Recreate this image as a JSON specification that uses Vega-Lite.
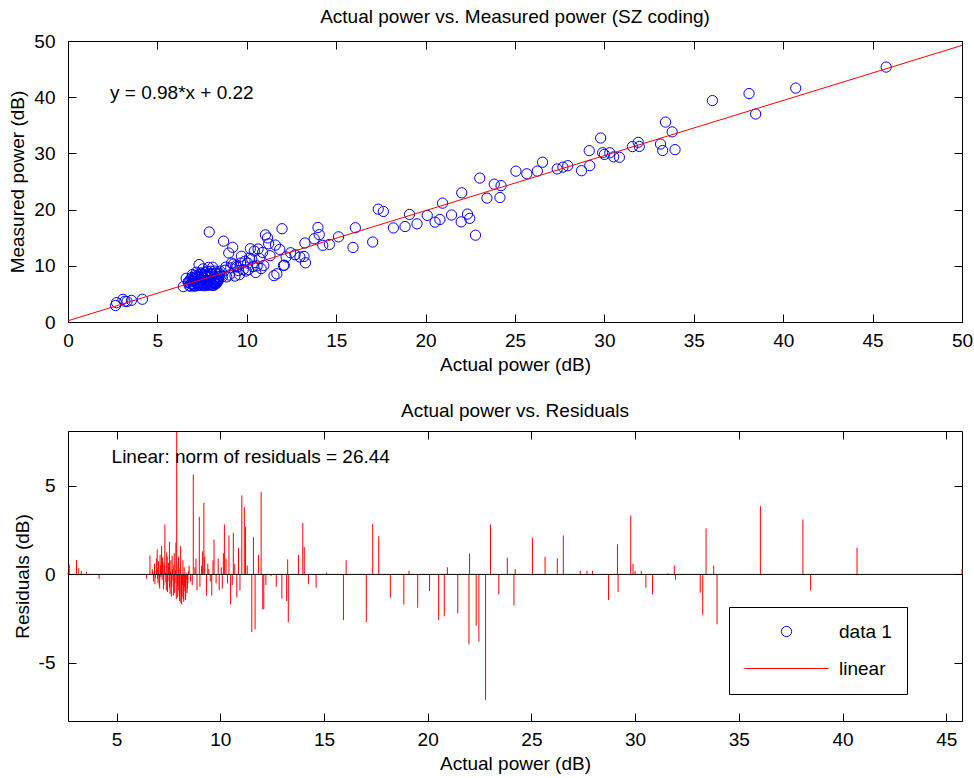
{
  "$schema": "https://vega.github.io/schema/vega-lite/v6.json",
  "background": "white",
  "padding": {"left": 8, "top": 8, "right": 5, "bottom": 5},
  "spacing": 27,
  "config": {
    "font": "Liberation Sans",
    "view": {"stroke": null},
    "axis": {
      "labelFont": "Liberation Sans", "labelFontSize": 19, "labelColor": "black",
      "titleFont": "Liberation Sans", "titleFontSize": 19, "titleFontWeight": "normal", "titleColor": "black",
      "domainColor": "black", "domainWidth": 1, "tickColor": "black", "tickWidth": 1,
      "grid": false, "tickSize": -8, "labelPadding": 21, "labelFlush": false, "labelOverlap": false, "titlePadding": 6
    },
    "axisX": {"labelPadding": 17, "titlePadding": 5},
    "title": {"font": "Liberation Sans", "fontSize": 19, "fontWeight": "normal", "color": "black"},
    "legend": {
      "orient": "none", "legendX": 661, "legendY": 566,
      "strokeColor": "black", "fillColor": "white", "padding": 15,
      "labelFont": "Liberation Sans", "labelFontSize": 19, "labelColor": "black",
      "labelOffset": 10, "rowPadding": 17, "clipHeight": 19, "symbolStrokeWidth": 1
    }
  },
  "datasets": {
    "fit": [{"x": 0, "y": 0.22}, {"x": 50, "y": 49.22}],
    "pts": [
      {"x": 2.66, "y": 2.93, "r": 0.10}, {"x": 2.72, "y": 3.44, "r": 0.55}, {"x": 3.07, "y": 4.03, "r": 0.80},
      {"x": 3.18, "y": 3.69, "r": 0.35}, {"x": 3.30, "y": 3.65, "r": 0.20}, {"x": 3.55, "y": 3.85, "r": 0.15},
      {"x": 4.16, "y": 4.05, "r": -0.25}, {"x": 6.45, "y": 6.29, "r": -0.25}, {"x": 6.61, "y": 7.77, "r": 1.07},
      {"x": 6.72, "y": 7.11, "r": 0.30}, {"x": 6.78, "y": 6.46, "r": -0.40}, {"x": 6.83, "y": 7.51, "r": 0.60},
      {"x": 6.88, "y": 6.76, "r": -0.20}, {"x": 6.92, "y": 7.90, "r": 0.90}, {"x": 6.96, "y": 8.45, "r": 1.41},
      {"x": 7.00, "y": 6.58, "r": -0.50}, {"x": 7.04, "y": 7.32, "r": 0.20}, {"x": 7.08, "y": 6.36, "r": -0.80},
      {"x": 7.12, "y": 7.70, "r": 0.50}, {"x": 7.17, "y": 8.85, "r": 1.60}, {"x": 7.20, "y": 6.98, "r": -0.30},
      {"x": 7.24, "y": 8.02, "r": 0.70}, {"x": 7.28, "y": 6.75, "r": -0.60}, {"x": 7.33, "y": 10.22, "r": 2.82},
      {"x": 7.36, "y": 7.53, "r": 0.10}, {"x": 7.40, "y": 6.57, "r": -0.90}, {"x": 7.44, "y": 8.51, "r": 1.00},
      {"x": 7.48, "y": 7.15, "r": -0.40}, {"x": 7.52, "y": 7.99, "r": 0.40}, {"x": 7.55, "y": 9.45, "r": 1.83},
      {"x": 7.58, "y": 6.55, "r": -1.10}, {"x": 7.62, "y": 8.49, "r": 0.80}, {"x": 7.66, "y": 7.03, "r": -0.70},
      {"x": 7.70, "y": 8.07, "r": 0.30}, {"x": 7.74, "y": 6.61, "r": -1.20}, {"x": 7.78, "y": 9.04, "r": 1.20},
      {"x": 7.82, "y": 7.38, "r": -0.50}, {"x": 7.86, "y": 9.72, "r": 1.80}, {"x": 7.90, "y": 16.01, "r": 8.05},
      {"x": 7.93, "y": 6.69, "r": -1.30}, {"x": 7.97, "y": 8.63, "r": 0.60}, {"x": 8.00, "y": 7.16, "r": -0.90},
      {"x": 8.04, "y": 6.60, "r": -1.50}, {"x": 8.09, "y": 9.75, "r": 1.60}, {"x": 8.12, "y": 7.08, "r": -1.10},
      {"x": 8.14, "y": 6.50, "r": -1.70}, {"x": 8.18, "y": 7.64, "r": -0.60}, {"x": 8.22, "y": 6.88, "r": -1.40},
      {"x": 8.26, "y": 8.71, "r": 0.40}, {"x": 8.30, "y": 7.40, "r": -0.95}, {"x": 8.34, "y": 7.19, "r": -1.20},
      {"x": 8.38, "y": 8.13, "r": -0.30}, {"x": 8.42, "y": 7.67, "r": -0.80}, {"x": 8.46, "y": 8.71, "r": 0.20},
      {"x": 6.75, "y": 6.99, "r": 0.15}, {"x": 6.85, "y": 6.38, "r": -0.55}, {"x": 6.94, "y": 7.37, "r": 0.35},
      {"x": 6.98, "y": 6.81, "r": -0.25}, {"x": 7.02, "y": 7.85, "r": 0.75}, {"x": 7.06, "y": 6.49, "r": -0.65},
      {"x": 7.10, "y": 8.28, "r": 1.10}, {"x": 7.14, "y": 7.07, "r": -0.15}, {"x": 7.22, "y": 8.25, "r": 0.95},
      {"x": 7.26, "y": 6.48, "r": -0.85}, {"x": 7.30, "y": 7.92, "r": 0.55}, {"x": 7.38, "y": 7.00, "r": -0.45},
      {"x": 7.42, "y": 8.74, "r": 1.25}, {"x": 7.46, "y": 6.53, "r": -1.00}, {"x": 7.50, "y": 8.22, "r": 0.65},
      {"x": 7.56, "y": 6.88, "r": -0.75}, {"x": 7.60, "y": 7.82, "r": 0.15}, {"x": 7.64, "y": 6.46, "r": -1.25},
      {"x": 7.68, "y": 8.80, "r": 1.05}, {"x": 7.72, "y": 7.44, "r": -0.35}, {"x": 7.76, "y": 8.37, "r": 0.55},
      {"x": 7.80, "y": 6.81, "r": -1.05}, {"x": 7.84, "y": 8.15, "r": 0.25}, {"x": 7.88, "y": 6.54, "r": -1.40},
      {"x": 7.95, "y": 7.36, "r": -0.65}, {"x": 7.99, "y": 9.05, "r": 1.00}, {"x": 8.02, "y": 6.88, "r": -1.20},
      {"x": 8.06, "y": 8.47, "r": 0.35}, {"x": 8.10, "y": 6.56, "r": -1.60}, {"x": 8.16, "y": 6.97, "r": -1.25},
      {"x": 8.20, "y": 9.06, "r": 0.80}, {"x": 8.24, "y": 6.75, "r": -1.55}, {"x": 8.28, "y": 7.63, "r": -0.70},
      {"x": 8.32, "y": 6.92, "r": -1.45}, {"x": 8.36, "y": 8.51, "r": 0.10}, {"x": 8.40, "y": 7.40, "r": -1.05},
      {"x": 8.44, "y": 7.99, "r": -0.50}, {"x": 8.50, "y": 9.05, "r": 0.50}, {"x": 8.65, "y": 8.10, "r": -0.60},
      {"x": 8.78, "y": 9.22, "r": 0.40}, {"x": 9.02, "y": 8.36, "r": -0.70}, {"x": 9.15, "y": 10.49, "r": 1.30},
      {"x": 9.40, "y": 10.03, "r": 0.60}, {"x": 9.52, "y": 9.15, "r": -0.40}, {"x": 9.65, "y": 10.48, "r": 0.80},
      {"x": 10.10, "y": 9.32, "r": -0.80}, {"x": 10.15, "y": 11.37, "r": 1.20}, {"x": 10.58, "y": 9.99, "r": -0.60},
      {"x": 10.95, "y": 10.05, "r": -0.90},
      {"x": 8.57, "y": 8.22, "r": -0.40}, {"x": 8.70, "y": 14.39, "r": 5.64}, {"x": 8.83, "y": 9.77, "r": 0.90},
      {"x": 8.88, "y": 8.02, "r": -0.90}, {"x": 8.99, "y": 12.28, "r": 3.25}, {"x": 9.10, "y": 9.64, "r": 0.50},
      {"x": 9.21, "y": 13.29, "r": 4.04}, {"x": 9.25, "y": 10.29, "r": 1.00}, {"x": 9.34, "y": 8.17, "r": -1.20},
      {"x": 9.45, "y": 9.78, "r": 0.30}, {"x": 9.59, "y": 8.42, "r": -1.20}, {"x": 9.70, "y": 11.70, "r": 1.97},
      {"x": 9.80, "y": 9.32, "r": -0.50}, {"x": 9.90, "y": 10.82, "r": 0.90}, {"x": 9.95, "y": 9.07, "r": -0.90},
      {"x": 10.05, "y": 10.47, "r": 0.40}, {"x": 10.20, "y": 13.04, "r": 2.82}, {"x": 10.28, "y": 11.19, "r": 0.90},
      {"x": 10.35, "y": 9.86, "r": -0.50}, {"x": 10.42, "y": 12.63, "r": 2.20}, {"x": 10.50, "y": 8.81, "r": -1.70},
      {"x": 10.63, "y": 12.99, "r": 2.35}, {"x": 10.70, "y": 11.31, "r": 0.60}, {"x": 10.80, "y": 9.50, "r": -1.30},
      {"x": 10.88, "y": 12.38, "r": 1.50}, {"x": 11.04, "y": 15.50, "r": 4.46}, {"x": 11.16, "y": 14.96, "r": 3.80},
      {"x": 11.22, "y": 13.92, "r": 2.70}, {"x": 11.30, "y": 11.79, "r": 0.50}, {"x": 11.52, "y": 8.25, "r": -3.26},
      {"x": 11.60, "y": 13.69, "r": 2.10}, {"x": 11.68, "y": 8.57, "r": -3.10}, {"x": 11.84, "y": 12.92, "r": 1.10},
      {"x": 11.97, "y": 16.60, "r": 4.65}, {"x": 12.05, "y": 10.06, "r": -1.97}, {"x": 12.10, "y": 10.11, "r": -1.97},
      {"x": 12.20, "y": 11.58, "r": -0.60}, {"x": 12.45, "y": 12.32, "r": -0.10}, {"x": 12.70, "y": 11.97, "r": -0.70},
      {"x": 12.97, "y": 11.57, "r": -1.36}, {"x": 13.20, "y": 11.66, "r": -1.50}, {"x": 13.25, "y": 14.06, "r": 0.85},
      {"x": 13.28, "y": 10.53, "r": -2.70}, {"x": 13.77, "y": 14.81, "r": 1.10}, {"x": 13.98, "y": 16.82, "r": 2.90},
      {"x": 14.05, "y": 15.54, "r": 1.55}, {"x": 14.25, "y": 13.64, "r": -0.55}, {"x": 14.62, "y": 13.80, "r": -0.75},
      {"x": 15.13, "y": 15.15, "r": 0.10}, {"x": 15.94, "y": 13.26, "r": -2.58}, {"x": 16.07, "y": 16.77, "r": 0.80},
      {"x": 17.04, "y": 14.23, "r": -2.69}, {"x": 17.35, "y": 20.08, "r": 2.86}, {"x": 17.64, "y": 19.67, "r": 2.16},
      {"x": 18.20, "y": 16.74, "r": -1.32}, {"x": 18.85, "y": 16.99, "r": -1.70}, {"x": 19.10, "y": 19.14, "r": 0.20},
      {"x": 19.52, "y": 17.47, "r": -1.88}, {"x": 20.09, "y": 18.97, "r": -0.94}, {"x": 20.53, "y": 17.76, "r": -2.58},
      {"x": 20.80, "y": 18.24, "r": -2.36}, {"x": 20.95, "y": 21.15, "r": 0.40}, {"x": 21.45, "y": 19.04, "r": -2.20},
      {"x": 21.99, "y": 17.82, "r": -3.95}, {"x": 22.02, "y": 22.98, "r": 1.18}, {"x": 22.34, "y": 19.21, "r": -2.90},
      {"x": 22.47, "y": 18.44, "r": -3.80}, {"x": 22.79, "y": 15.45, "r": -7.10}, {"x": 23.03, "y": 25.61, "r": 2.82},
      {"x": 23.43, "y": 22.05, "r": -1.13}, {"x": 23.84, "y": 24.52, "r": 0.94}, {"x": 24.16, "y": 22.15, "r": -1.75},
      {"x": 24.22, "y": 24.26, "r": 0.30}, {"x": 25.05, "y": 26.84, "r": 2.07}, {"x": 25.66, "y": 26.37, "r": 1.00},
      {"x": 26.25, "y": 26.85, "r": 0.90}, {"x": 26.54, "y": 28.43, "r": 2.20}, {"x": 27.36, "y": 27.23, "r": 0.20},
      {"x": 27.68, "y": 27.55, "r": 0.20}, {"x": 27.95, "y": 27.81, "r": 0.20}, {"x": 28.72, "y": 26.92, "r": -1.45},
      {"x": 29.15, "y": 30.49, "r": 1.70}, {"x": 29.18, "y": 27.82, "r": -1.00}, {"x": 29.79, "y": 32.74, "r": 3.33},
      {"x": 29.90, "y": 30.12, "r": 0.60}, {"x": 30.00, "y": 29.82, "r": 0.20}, {"x": 30.30, "y": 30.11, "r": 0.20},
      {"x": 30.52, "y": 29.38, "r": -0.75}, {"x": 30.84, "y": 29.31, "r": -1.13}, {"x": 31.57, "y": 31.21, "r": 0.05},
      {"x": 31.89, "y": 31.97, "r": 0.50}, {"x": 31.95, "y": 31.23, "r": -0.30}, {"x": 33.14, "y": 31.66, "r": -1.04},
      {"x": 33.26, "y": 30.51, "r": -2.30}, {"x": 33.42, "y": 35.57, "r": 2.60}, {"x": 33.79, "y": 33.83, "r": 0.50},
      {"x": 33.95, "y": 30.67, "r": -2.82}, {"x": 36.04, "y": 39.40, "r": 3.86}, {"x": 38.09, "y": 40.65, "r": 3.10},
      {"x": 38.46, "y": 37.01, "r": -0.90}, {"x": 40.70, "y": 41.61, "r": 1.50}, {"x": 45.76, "y": 45.36, "r": 0.30}
    ]
  },
  "vconcat": [
    {
      "width": 894, "height": 281,
      "title": {"text": "Actual power vs. Measured power (SZ coding)", "offset": 5},
      "layer": [
        {
          "data": {"name": "pts"},
          "mark": {"type": "point", "filled": false, "strokeWidth": 1, "opacity": 1},
          "encoding": {
            "x": {"field": "x", "type": "quantitative", "scale": {"domain": [0, 50], "nice": false, "zero": false},
                  "axis": {"orient": "bottom", "title": "Actual power (dB)", "values": [0, 5, 10, 15, 20, 25, 30, 35, 40, 45, 50]}},
            "y": {"field": "y", "type": "quantitative", "scale": {"domain": [0, 50], "nice": false, "zero": false},
                  "axis": {"orient": "left", "title": "Measured power (dB)", "values": [0, 10, 20, 30, 40, 50]}},
            "color": {"datum": "data 1", "type": "nominal", "scale": {"domain": ["data 1", "linear"], "range": ["#0000ff", "#ff0000"]}},
            "shape": {"datum": "data 1", "type": "nominal", "scale": {"domain": ["data 1", "linear"], "range": ["circle", "stroke"]}},
            "size": {"datum": "data 1", "type": "nominal", "scale": {"type": "point", "domain": ["data 1", "linear"], "range": [105, 7056], "padding": 0}}
          }
        },
        {
          "data": {"name": "fit"},
          "mark": {"type": "line", "strokeWidth": 1},
          "encoding": {
            "x": {"field": "x", "type": "quantitative", "axis": {"orient": "top", "labels": false, "title": null, "values": [0, 5, 10, 15, 20, 25, 30, 35, 40, 45, 50]}},
            "y": {"field": "y", "type": "quantitative", "axis": {"orient": "right", "labels": false, "title": null, "values": [0, 10, 20, 30, 40, 50]}},
            "color": {"datum": "linear", "type": "nominal"}
          }
        },
        {
          "data": {"values": [{}]},
          "mark": {"type": "text", "align": "left", "baseline": "middle", "font": "Liberation Sans", "fontSize": 19, "color": "black"},
          "encoding": {
            "x": {"datum": 2.35, "type": "quantitative", "axis": null},
            "y": {"datum": 40.7, "type": "quantitative", "axis": null},
            "text": {"value": "y = 0.98*x + 0.22"}
          }
        }
      ],
      "resolve": {"axis": {"x": "independent", "y": "independent"}}
    },
    {
      "width": 894, "height": 290,
      "title": {"text": "Actual power vs. Residuals", "offset": 10},
      "layer": [
        {
          "data": {"name": "pts"},
          "mark": {"type": "rule", "color": "#ff0000", "strokeWidth": 1},
          "encoding": {
            "x": {"field": "x", "type": "quantitative", "scale": {"domain": [2.66, 45.76], "nice": false, "zero": false},
                  "axis": {"orient": "bottom", "title": "Actual power (dB)", "values": [5, 10, 15, 20, 25, 30, 35, 40, 45]}},
            "y": {"field": "r", "type": "quantitative", "scale": {"domain": [-8.28, 8.1], "nice": false, "zero": false},
                  "axis": {"orient": "left", "title": "Residuals (dB)", "values": [-5, 0, 5], "labelExpr": "'' + datum.value"}},
            "y2": {"datum": 0}
          }
        },
        {
          "data": {"values": [{}]},
          "mark": {"type": "rule", "color": "black", "strokeWidth": 1},
          "encoding": {
            "y": {"datum": 0, "type": "quantitative", "axis": {"orient": "right", "labels": false, "title": null, "values": [-5, 0, 5]}}
          }
        },
        {
          "data": {"values": [{}]},
          "mark": {"type": "text", "align": "left", "baseline": "middle", "font": "Liberation Sans", "fontSize": 19, "color": "black"},
          "encoding": {
            "x": {"datum": 4.76, "type": "quantitative", "axis": {"orient": "top", "labels": false, "title": null, "values": [5, 10, 15, 20, 25, 30, 35, 40, 45]}},
            "y": {"datum": 6.63, "type": "quantitative", "axis": null},
            "text": {"value": "Linear: norm of residuals = 26.44"}
          }
        }
      ],
      "resolve": {"axis": {"x": "independent", "y": "independent"}}
    }
  ]
}
